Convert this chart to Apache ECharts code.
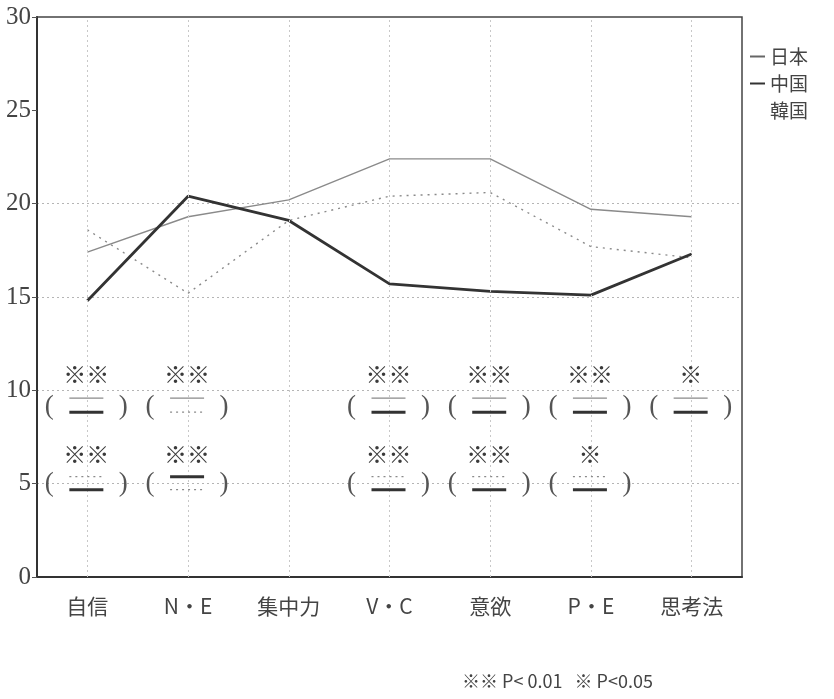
<!DOCTYPE html>
<html>
<head>
<meta charset="utf-8">
<script src="https://cdn.jsdelivr.net/npm/echarts@6/dist/echarts.min.js"></script>
<style>
  html, body { margin: 0; padding: 0; background: #fff; }
  #chart { width: 834px; height: 699px; }
</style>
</head>
<body>
<div id="chart"></div>
<script>
// Categories along the horizontal axis
const categories = ['自信', 'N・E', '集中力', 'V・C', '意欲', 'P・E', '思考法'];

// Mean scores per country
const japan = [17.4, 19.3, 20.2, 22.4, 22.4, 19.7, 19.3];
const china = [14.8, 20.4, 19.1, 15.7, 15.3, 15.1, 17.3];
const korea = [18.6, 15.2, 19.1, 20.4, 20.6, 17.7, 17.1];

// Vertical axis range and tick labels
const yTicks = [0, 5, 10, 15, 20, 25, 30];

// Significance marks: upper row compares the first pair, lower row the second
const sigUpper = ['※※', '※※', '', '※※', '※※', '※※', '※'];
const pairUpper = [['日本', '中国'], ['日本', '韓国'], null, ['日本', '中国'], ['日本', '中国'], ['日本', '中国'], ['日本', '中国']];
const sigLower = ['※※', '※※', '', '※※', '※※', '※', ''];
const pairLower = [['韓国', '中国'], ['中国', '韓国'], null, ['韓国', '中国'], ['韓国', '中国'], ['韓国', '中国'], null];
const rowLevel = [9.1, 5.0];

const legendNote = '※※ P< 0.01   ※ P<0.05';

const seriesStyle = {
  '日本': { stroke: '#8a8a8a', lineWidth: 1.4 },
  '中国': { stroke: '#333', lineWidth: 3 },
  '韓国': { stroke: '#8a8a8a', lineWidth: 1.4, lineDash: [2, 4] }
};

// Flatten the significance rows into drawable items
const sigItems = [];
[[sigUpper, pairUpper], [sigLower, pairLower]].forEach(function (row, r) {
  row[0].forEach(function (mark, i) {
    if (mark && row[1][i]) {
      sigItems.push({ idx: i, level: rowLevel[r], mark: mark, pair: row[1][i], row: r });
    }
  });
});

const chart = echarts.init(document.getElementById('chart'));

const labelFont = '"Noto Sans CJK JP", sans-serif';
const numFont = '"Liberation Serif", "DejaVu Serif", serif';

chart.setOption({
  animation: false,
  backgroundColor: '#fff',
  grid: {
    left: 37, right: 92, top: 17, bottom: 122,
    show: true, borderColor: '#444', borderWidth: 1.5
  },
  legend: {
    orient: 'vertical',
    left: 745, top: 42,
    itemWidth: 15, itemHeight: 2, itemGap: 8,
    icon: 'rect',
    data: [
      { name: '日本', itemStyle: { color: '#666' } },
      { name: '中国', itemStyle: { color: '#333' } },
      { name: '韓国', itemStyle: { opacity: 0 } }
    ],
    textStyle: { fontFamily: labelFont, fontSize: 19, color: '#444' }
  },
  xAxis: {
    type: 'category',
    data: categories,
    boundaryGap: true,
    axisLine: { lineStyle: { color: '#333', width: 2 } },
    axisTick: { show: false },
    axisLabel: { fontFamily: labelFont, fontSize: 21, color: '#444', margin: 19 },
    splitLine: { show: false }
  },
  yAxis: {
    type: 'value',
    min: yTicks[0], max: yTicks[yTicks.length - 1], interval: 5,
    axisLine: { show: true, lineStyle: { color: '#333', width: 2 } },
    axisTick: { show: true, length: 5, lineStyle: { color: '#555' } },
    axisLabel: { fontFamily: numFont, fontSize: 25, color: '#444', margin: 6 },
    splitLine: {
      show: true,
      lineStyle: {
        color: ['transparent', '#b5b5b5', '#b5b5b5', '#b5b5b5', '#b5b5b5', 'transparent', 'transparent'],
        type: [2, 3], width: 1
      }
    }
  },
  series: [
    {
      name: '日本', type: 'line', data: japan, symbol: 'none',
      lineStyle: { color: '#8a8a8a', width: 1.4 }, itemStyle: { color: '#8a8a8a' },
      z: 3,
      markLine: {
        silent: true, symbol: 'none', label: { show: false },
        lineStyle: { color: '#c8c8c8', type: [2, 3], width: 1 },
        data: categories.map(function (c) { return { xAxis: c }; })
      }
    },
    {
      name: '中国', type: 'line', data: china, symbol: 'none',
      lineStyle: { color: '#333', width: 2.8 }, itemStyle: { color: '#333' },
      z: 4
    },
    {
      name: '韓国', type: 'line', data: korea, symbol: 'none',
      lineStyle: { color: '#8a8a8a', width: 1.4, type: [2, 5] }, itemStyle: { color: '#8a8a8a' },
      z: 3
    },
    {
      // Significance markers placed through the axes
      type: 'custom',
      silent: true,
      data: sigItems.map(function (d) { return [d.idx, d.level]; }),
      encode: { x: 0, y: 1 },
      z: 5,
      renderItem: function (params, api) {
        const d = sigItems[params.dataIndex];
        const p = api.coord([api.value(0), api.value(1)]);
        const cx = p[0] - 1, cy = p[1];
        const up = d.row === 0 ? -9 : -7;
        const lo = d.row === 0 ? 5 : 6;
        const markDy = d.row === 0 ? -33 : -29;
        function seg(name, dy) {
          const s = seriesStyle[name];
          return {
            type: 'line',
            shape: { x1: cx - 17, y1: cy + dy, x2: cx + 17, y2: cy + dy },
            style: { stroke: s.stroke, lineWidth: s.lineWidth, lineDash: s.lineDash || null }
          };
        }
        return {
          type: 'group',
          children: [
            { type: 'text', x: cx, y: cy + markDy,
              style: { text: d.mark, fontFamily: labelFont, fontSize: 23, fill: '#3a3a3a', align: 'center', verticalAlign: 'middle' } },
            { type: 'text', x: cx - 37, y: cy,
              style: { text: '(', fontFamily: numFont, fontSize: 27, fill: '#555', align: 'center', verticalAlign: 'middle' } },
            { type: 'text', x: cx + 37, y: cy,
              style: { text: ')', fontFamily: numFont, fontSize: 27, fill: '#555', align: 'center', verticalAlign: 'middle' } },
            seg(d.pair[0], up),
            seg(d.pair[1], lo)
          ]
        };
      }
    }
  ],
  graphic: [
    {
      type: 'text', left: 462, top: 672,
      style: { text: legendNote, fontFamily: labelFont, fontSize: 18, fill: '#444' }
    }
  ]
});
</script>
</body>
</html>
